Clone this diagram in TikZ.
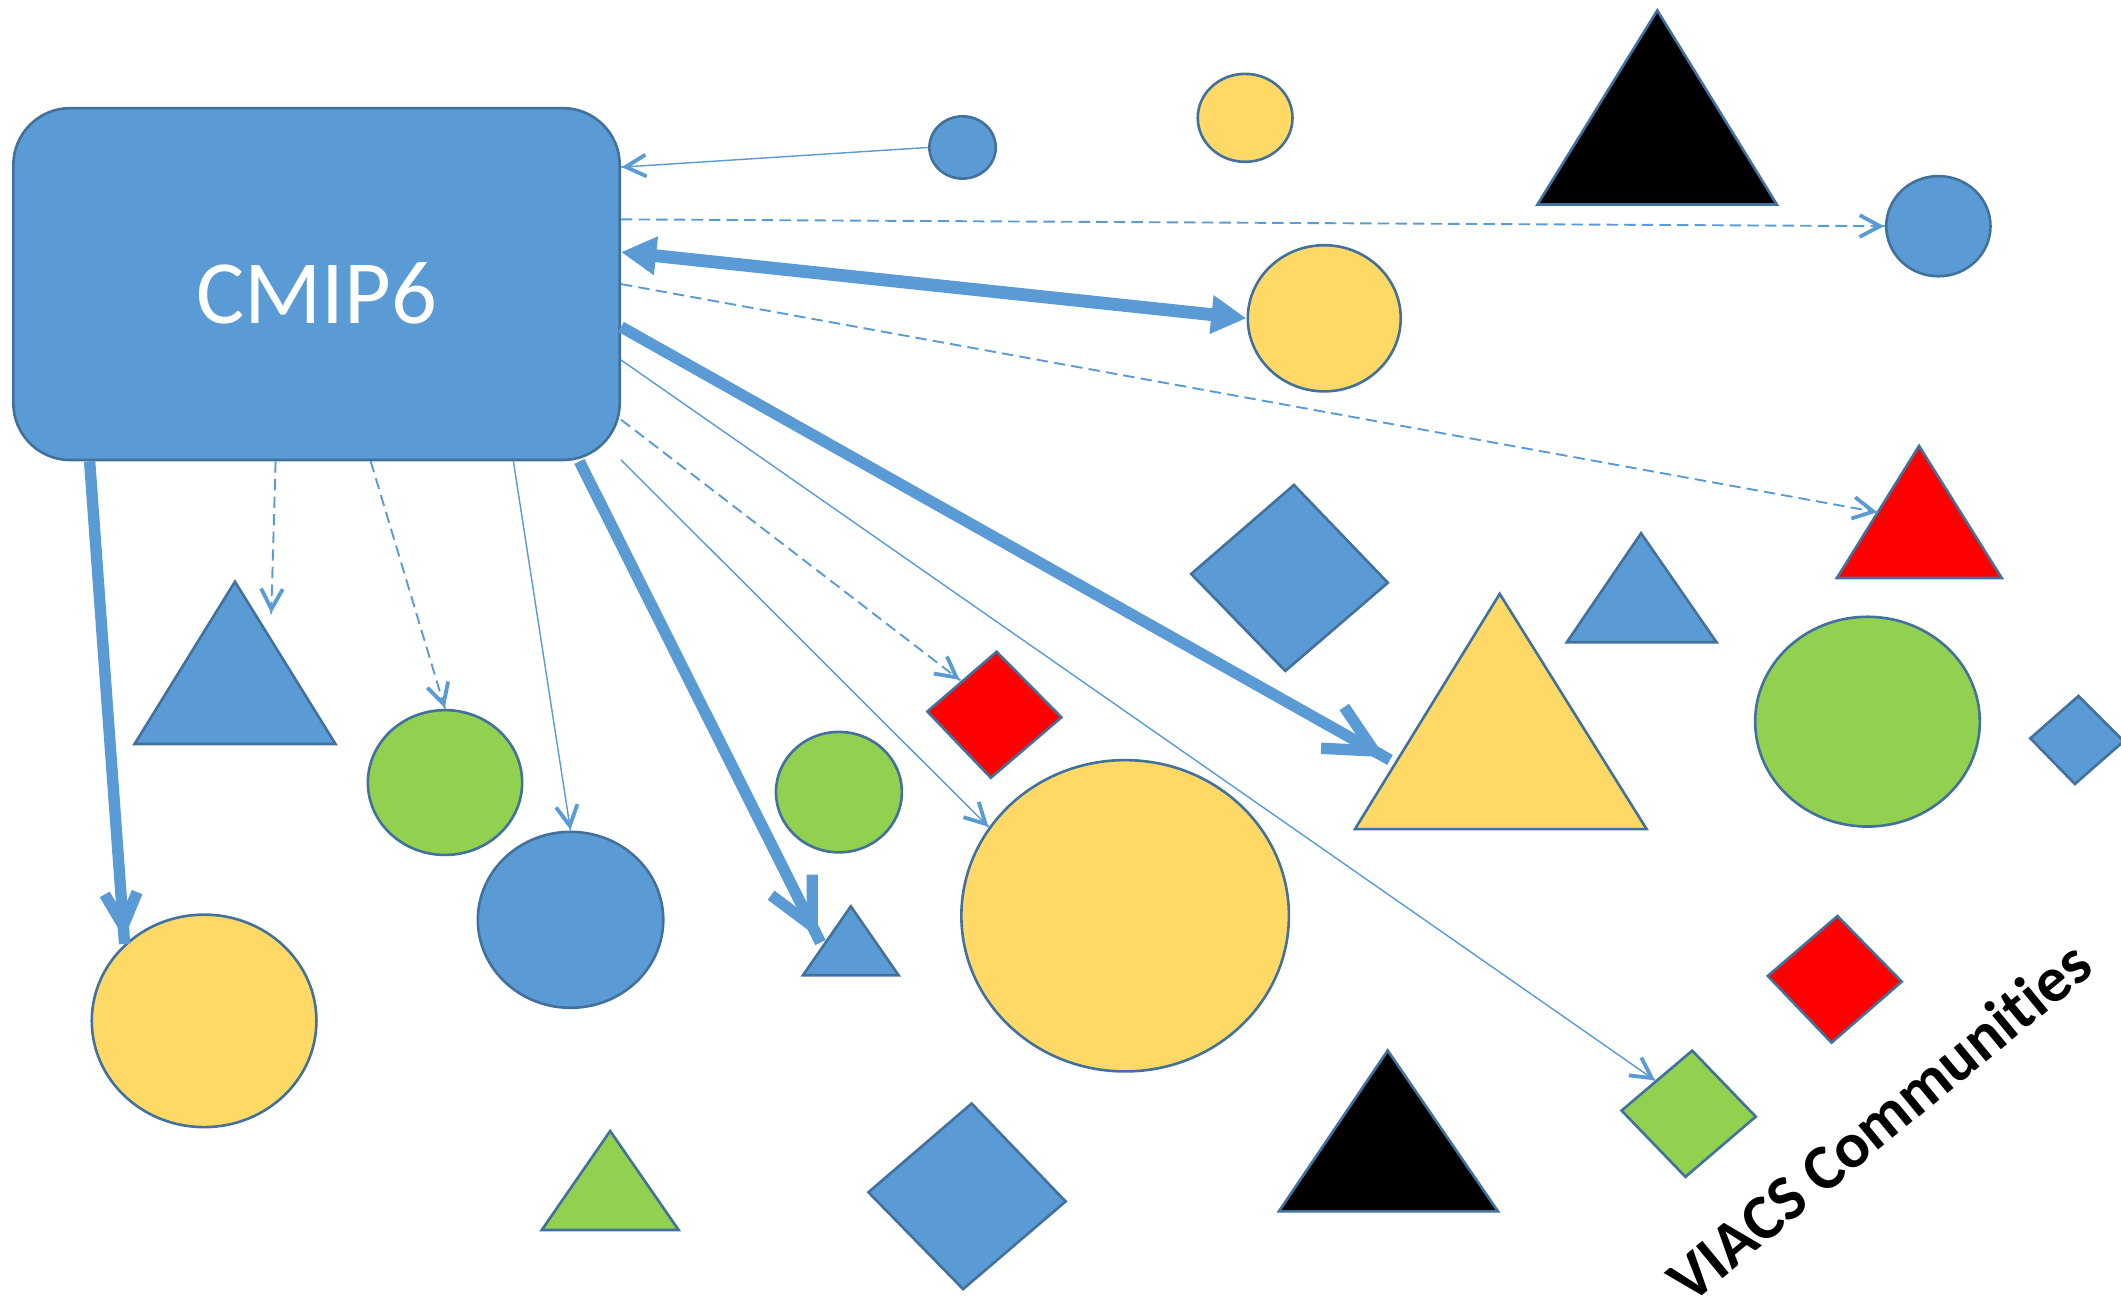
\documentclass[tikz,border=0pt]{standalone}
\usepackage{fontspec}
\setmainfont{Carlito}[Ligatures=NoCommon]
\usetikzlibrary{arrows.meta,shapes.geometric}
\definecolor{ShapeBlue}{HTML}{5B9BD5}
\definecolor{ShapeEdge}{HTML}{41719C}
\definecolor{ShapeGold}{HTML}{FFD966}
\definecolor{ShapeGreen}{HTML}{92D050}
\definecolor{ShapeRed}{HTML}{FF0000}

\begin{document}
\begin{tikzpicture}[x=0.01cm,y=-0.01cm,
    blob/.style={ellipse,draw=ShapeEdge,line width=0.55pt,inner sep=0pt},
    poly/.style={draw=ShapeEdge,line width=0.55pt,line join=miter},
    link/.style={draw=ShapeBlue,line width=0.3pt,
        -{Straight Barb[length=0.15cm,width=0.16cm,line width=0.8pt,sep=0pt] Butt Cap[]}},
    dlink/.style={link,line width=0.4pt,dash pattern=on 2.4pt off 1.3pt},
    fat/.style={draw=ShapeBlue,line width=2.4pt,
        -{Straight Barb[length=#1,width=#1,sep=0pt] Butt Cap[]}},
    fat/.default=0.3cm]
        \useasboundingbox (0,0) rectangle (1568,965.5);
        % circles
        \node[blob,fill=ShapeBlue,minimum width=0.49cm,minimum height=0.46cm]
              (blue1) at (711.6,109) {};
        \node[blob,fill=ShapeGold,minimum width=0.70cm,minimum height=0.65cm]
              (gold1) at (920.5,87.1) {};
        \node[blob,fill=ShapeBlue,minimum width=0.77cm,minimum height=0.74cm]
              (blue2) at (1433,167.2) {};
        \node[blob,fill=ShapeGold,minimum width=1.13cm,minimum height=1.08cm]
              (gold2) at (979,235.3) {};
        \node[blob,fill=ShapeGreen,minimum width=1.66cm,minimum height=1.55cm]
              (green1) at (1380.6,533.5) {};
        \node[blob,fill=ShapeGreen,minimum width=1.14cm,minimum height=1.07cm]
              (green2) at (329,578.5) {};
        \node[blob,fill=ShapeGreen,minimum width=0.93cm,minimum height=0.89cm]
              (green3) at (620.2,585.6) {};
        \node[blob,fill=ShapeBlue,minimum width=1.37cm,minimum height=1.30cm]
              (blue3) at (421.8,680) {};
        \node[blob,fill=ShapeGold,minimum width=2.42cm,minimum height=2.30cm]
              (gold3) at (831.8,677) {};
        \node[blob,fill=ShapeGold,minimum width=1.66cm,minimum height=1.57cm]
              (gold4) at (150.9,754.7) {};
        % triangles
        \draw[poly,fill=black] (1225.2,7.7) -- (1313.6,151.2) -- (1136.6,151.2) -- cycle;
        \draw[poly,fill=ShapeRed] (1418.7,329.7) -- (1479.8,427.3) -- (1358,427.3) -- cycle;
        \draw[poly,fill=ShapeBlue] (1213.2,394.2) -- (1269,474.8) -- (1158.3,474.8) -- cycle;
        \draw[poly,fill=ShapeGold] (1108.7,439) -- (1217.3,612.9) -- (1001.7,612.9) -- cycle;
        \draw[poly,fill=ShapeBlue] (173.7,430) -- (248,550) -- (99.5,550) -- cycle;
        \draw[poly,fill=ShapeBlue] (629,670) -- (664.3,721) -- (593.6,721) -- cycle;
        \draw[poly,fill=black] (1025.9,776.6) -- (1107.4,895.5) -- (945.5,895.5) -- cycle;
        \draw[poly,fill=ShapeGreen] (451.1,836.1) -- (501.7,909.3) -- (400.5,909.3) -- cycle;
        % diamonds
        \draw[poly,fill=ShapeBlue] (956.6,358.5) -- (1026,430.8) -- (950.2,496) -- (880.6,424.3) -- cycle;
        \draw[poly,fill=ShapeBlue] (1536.6,514.5) -- (1570,548) -- (1533.9,579.6) -- (1501,545.8) -- cycle;
        \draw[poly,fill=ShapeRed] (736.8,481.8) -- (784.7,530.3) -- (732.5,575) -- (685.6,526) -- cycle;
        \draw[poly,fill=ShapeRed] (1358.4,677.2) -- (1405.9,725.7) -- (1354,770.8) -- (1306.9,721.5) -- cycle;
        \draw[poly,fill=ShapeGreen] (1251,776.7) -- (1298,825.5) -- (1246,870) -- (1198.8,821) -- cycle;
        \draw[poly,fill=ShapeBlue] (718.3,815.8) -- (787.8,888.2) -- (712,953) -- (642,881.4) -- cycle;
        % arrow ends on the polygons
        \coordinate (redtri) at (1388.5,378.8);
        \coordinate (goldtri) at (1027.6,561.8);
        \coordinate (bluetriL) at (200.5,454);
        \coordinate (bluetriR) at (606.6,696.8);
        \coordinate (reddia) at (710,503);
        \coordinate (greendia) at (1224,799);
        % source
        \node[draw=ShapeEdge,line width=0.55pt,fill=ShapeBlue,rounded corners=0.42cm,
              minimum width=4.48cm,minimum height=2.6cm]
              (cmip) at (234,210) {};
        \node[text=white,font=\fontsize{19}{22}\selectfont,inner sep=0pt]
              (cmiptext) at (234,217) {CMIP6};
        % links
        \draw[link] (blue1.west) -- (cmip.21.2);
        \draw[dlink] (cmip.12.8) -- (blue2.west);
        \draw[draw=ShapeBlue,line width=2.7pt,
              {Triangle[length=0.26cm,width=0.27cm]}-{Triangle[length=0.26cm,width=0.27cm]}]
              (cmip.6.9) -- (gold2.west);
        \draw[dlink] (cmip.0) -- (redtri);
        \draw[fat=0.35cm] (cmip.-8.6) -- (goldtri);
        \draw[link] (cmip.-14.5) -- (greendia);
        \draw[dlink] (cmip.-24.2) -- (reddia);
        \draw[link] (cmip.-30) -- (gold3.147);
        \draw[fat=0.34cm] (cmip.-34.7) -- (bluetriR);
        \draw[link] (cmip.-42.2) -- (blue3.north);
        \draw[dlink] (cmip.-73.1) -- (green2.north);
        \draw[dlink] (cmip.-103.8) -- (bluetriL);
        \draw[fat=0.24cm] (cmip.218.2) -- (gold4.136);
        % label
        \node[font=\fontsize{13.5}{16}\selectfont\bfseries,rotate=39.5,inner sep=0pt]
              (viacs) at (1389,829) {VIACS Communities};
\end{tikzpicture}
\end{document}
